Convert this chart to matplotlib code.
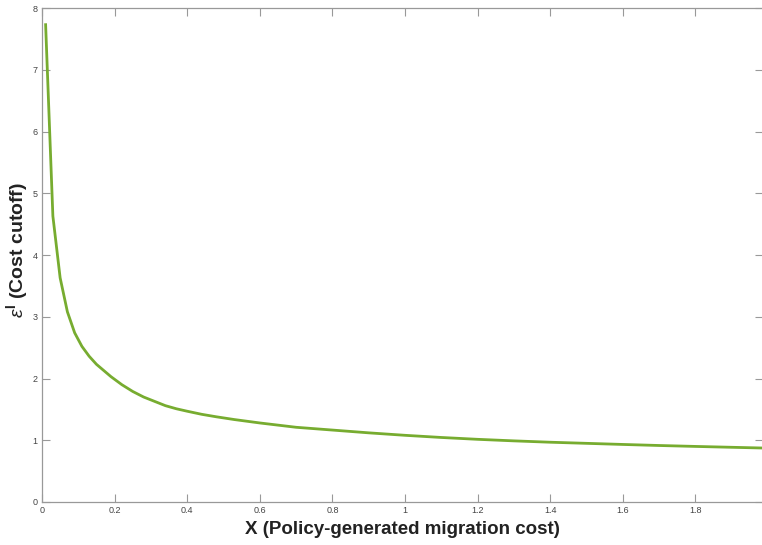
import matplotlib
matplotlib.use("Agg")
import matplotlib.pyplot as plt

plt.rcParams["font.family"] = ["Liberation Sans", "DejaVu Sans"]
plt.rcParams["mathtext.fontset"] = "custom"
plt.rcParams["mathtext.rm"] = "Liberation Sans"
plt.rcParams["mathtext.it"] = "Liberation Sans:italic"
plt.rcParams["mathtext.bf"] = "Liberation Sans:bold"

x_vals = [0.01, 0.03, 0.05, 0.07, 0.09, 0.11, 0.13, 0.15, 0.17, 0.19, 0.22, 0.25,
          0.28, 0.31, 0.34, 0.37, 0.40, 0.44, 0.48, 0.53, 0.60, 0.70, 0.80, 0.90,
          1.00, 1.10, 1.20, 1.30, 1.40, 1.50, 1.60, 1.70, 1.80, 1.90, 1.98]
y_vals = [7.73, 4.63, 3.63, 3.08, 2.74, 2.52, 2.36, 2.23, 2.13, 2.03, 1.90, 1.79,
          1.70, 1.63, 1.56, 1.51, 1.47, 1.42, 1.38, 1.335, 1.28, 1.21, 1.165, 1.12,
          1.08, 1.045, 1.015, 0.99, 0.968, 0.95, 0.932, 0.915, 0.90, 0.886, 0.875]
x_ticks = [0, 0.2, 0.4, 0.6, 0.8, 1.0, 1.2, 1.4, 1.6, 1.8]
x_tick_labels = ["0", "0.2", "0.4", "0.6", "0.8", "1", "1.2", "1.4", "1.6", "1.8"]
y_ticks = [0, 1, 2, 3, 4, 5, 6, 7, 8]

fig = plt.figure(figsize=(7.62, 5.45), dpi=100)
ax = fig.add_axes([0.0551, 0.0789, 0.9462, 0.9064])
ax.plot(x_vals, y_vals, color="#77AC30", lw=2.0)
ax.set_xlim(0, 1.986)
ax.set_ylim(0, 8)
ax.set_xticks(x_ticks)
ax.set_xticklabels(x_tick_labels)
ax.set_yticks(y_ticks)
ax.tick_params(direction="in", top=True, right=True, length=6, width=0.8,
               colors="#999999", labelcolor="#444444", labelsize=6.5, pad=3)
for s in ax.spines.values():
    s.set_color("#999999")
    s.set_linewidth(0.9)
ax.set_xlabel("X (Policy-generated migration cost)", fontsize=13.5, fontweight="bold",
              color="#222222")
ax.xaxis.set_label_coords(0.5, -0.038)
ax.set_ylabel(r"$\epsilon^{\mathbf{I}}$ (Cost cutoff)", fontsize=14, fontweight="bold",
              color="#222222")
ax.yaxis.set_label_coords(-0.017, 0.51)
fig.savefig("out.png", dpi=100)
